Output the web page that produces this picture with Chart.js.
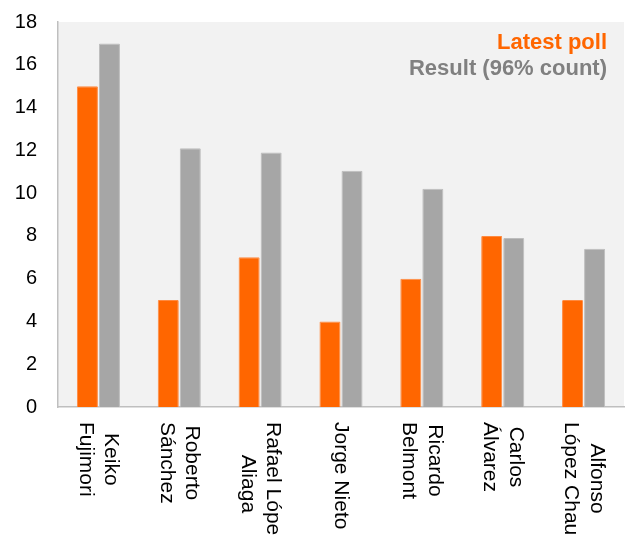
<!DOCTYPE html>
<html>
<head>
<meta charset="utf-8">
<script src="https://cdn.jsdelivr.net/npm/chart.js@4/dist/chart.umd.min.js"></script>
<style>
  body { margin: 0; background: #fff; }
  #wrap { width: 630px; height: 535px; }
</style>
</head>
<body>
<div id="wrap"><canvas id="pollChart" width="630" height="535"></canvas></div>
<script>
// candidates, split in the lines shown under the axis
const candidates = [
    ['Keiko', 'Fujimori'],
    ['Roberto', 'Sánchez'],
    ['Rafael López', 'Aliaga'],
    ['Jorge Nieto'],
    ['Ricardo', 'Belmont'],
    ['Carlos', 'Álvarez'],
    ['Alfonso', 'López Chau']
];
const latestPoll = [15, 5, 7, 4, 6, 8, 5];
const result96 = [17, 12.1, 11.9, 11.05, 10.2, 7.9, 7.4];
const seriesNames = ['Latest poll', 'Result (96% count)'];
const yTicks = [0, 2, 4, 6, 8, 10, 12, 14, 16, 18];

const FONT = '"Liberation Sans", Arial, sans-serif';

const plotBackground = {
    id: 'plotBackground',
    beforeDraw(chart) {
        const { ctx, chartArea: a } = chart;
        ctx.save();
        ctx.fillStyle = '#f2f2f2';
        ctx.fillRect(a.left, a.top, a.right - a.left, a.bottom - a.top);
        ctx.restore();
    }
};

// x labels read top to bottom, lines centred on each other
const verticalLabels = {
    id: 'verticalLabels',
    afterDraw(chart) {
        const { ctx } = chart;
        const xScale = chart.scales.x;
        const base = chart.chartArea.bottom;
        ctx.save();
        ctx.font = '21px ' + FONT;
        ctx.fillStyle = '#000';
        ctx.textAlign = 'center';
        ctx.textBaseline = 'middle';
        const lh = 25.5;
        candidates.forEach((lines, i) => {
            const x = xScale.getPixelForValue(i);
            const maxW = Math.max(...lines.map(l => ctx.measureText(l).width));
            ctx.save();
            ctx.translate(x, base);
            ctx.rotate(Math.PI / 2);
            lines.forEach((line, j) => {
                const off = (j - (lines.length - 1) / 2) * lh;
                ctx.fillText(line, 15 + maxW / 2, off);
            });
            ctx.restore();
        });
        ctx.restore();
    }
};

const cornerLegend = {
    id: 'cornerLegend',
    afterDraw(chart) {
        const { ctx, chartArea: a } = chart;
        const colors = ['#ff6600', '#808080'];
        ctx.save();
        ctx.font = 'bold 22px ' + FONT;
        ctx.textAlign = 'right';
        ctx.textBaseline = 'middle';
        chart.data.datasets.forEach((ds, i) => {
            ctx.fillStyle = colors[i];
            ctx.fillText(ds.label, a.right - 17, 43 + i * 26);
        });
        ctx.restore();
    }
};

new Chart(document.getElementById('pollChart').getContext('2d'), {
    type: 'bar',
    data: {
        labels: candidates.map(c => c.join(' ')),
        datasets: [{
            label: seriesNames[0],
            data: latestPoll,
            backgroundColor: '#ff6600',
            borderColor: '#ff8a40',
            borderWidth: 1,
            borderRadius: 1,
            categoryPercentage: 0.545,
            barPercentage: 0.955
        }, {
            label: seriesNames[1],
            data: result96,
            backgroundColor: '#a6a6a6',
            borderColor: '#bdbdbd',
            borderWidth: 1,
            borderRadius: 1,
            categoryPercentage: 0.545,
            barPercentage: 0.955
        }]
    },
    options: {
        responsive: false,
        animation: false,
        layout: { padding: { top: 22, right: 6, left: 0, bottom: 0 } },
        plugins: {
            legend: { display: false },
            tooltip: { enabled: false }
        },
        scales: {
            x: {
                grid: { display: false, drawTicks: false },
                border: { display: true, color: '#bfbfbf', width: 1.5 },
                ticks: { display: false },
                afterFit(scale) { scale.height = 128; }
            },
            y: {
                min: 0,
                max: 18,
                afterBuildTicks(scale) { scale.ticks = yTicks.map(v => ({ value: v })); },
                grid: { display: false, drawTicks: false },
                border: { display: true, color: '#bfbfbf', width: 1.5 },
                ticks: {
                    color: '#000',
                    padding: 21,
                    font: { family: FONT, size: 20 }
                },
                afterFit(scale) {
                    scale.width = 58;
                    scale.paddingTop = 0;
                    scale.paddingBottom = 0;
                }
            }
        }
    },
    plugins: [plotBackground, verticalLabels, cornerLegend]
});
</script>
</body>
</html>
